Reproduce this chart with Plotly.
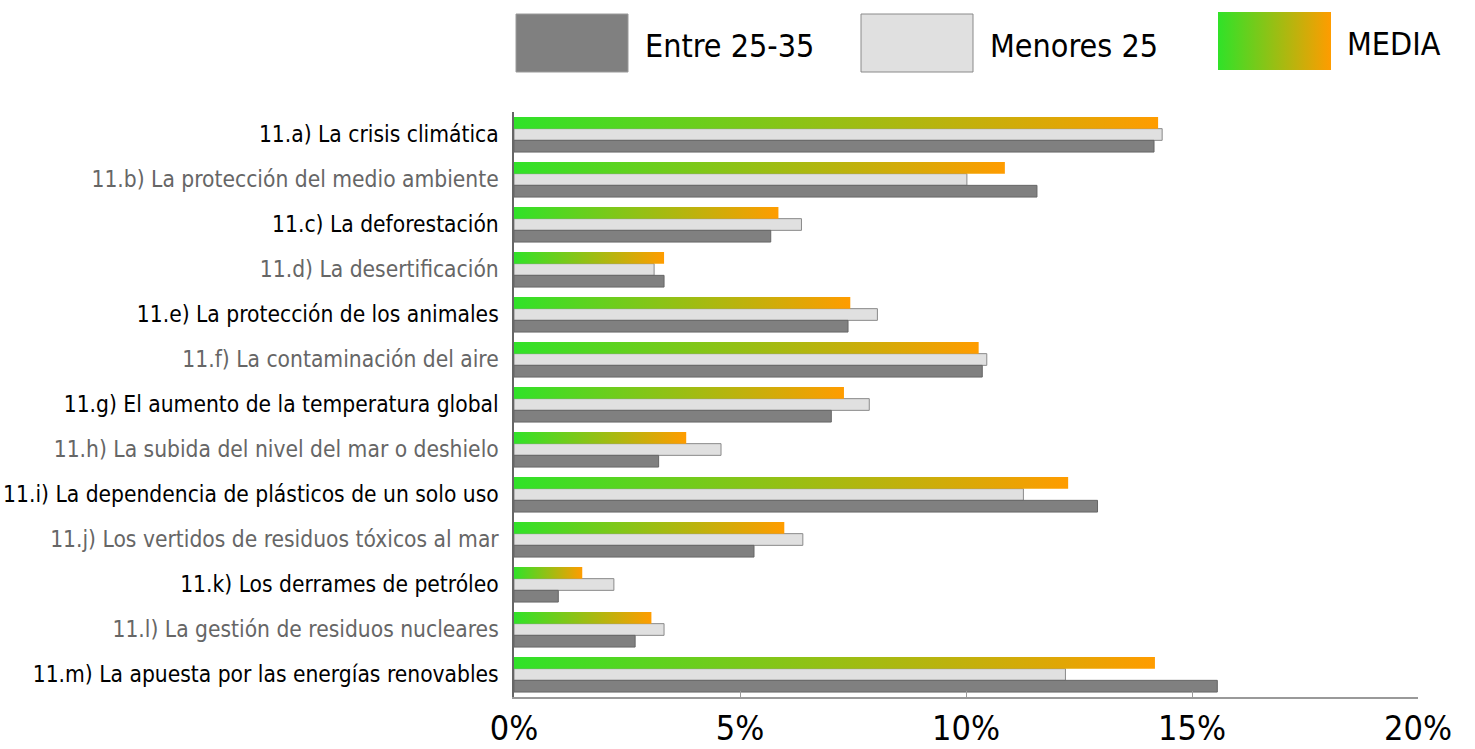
import plotly.graph_objects as go

# ---------------- data ----------------
categories = [
    "11.a) La crisis climática",
    "11.b) La protección del medio ambiente",
    "11.c) La deforestación",
    "11.d) La desertificación",
    "11.e) La protección de los animales",
    "11.f) La contaminación del aire",
    "11.g) El aumento de la temperatura global",
    "11.h) La subida del nivel del mar o deshielo",
    "11.i) La dependencia de plásticos de un solo uso",
    "11.j) Los vertidos de residuos tóxicos al mar",
    "11.k) Los derrames de petróleo",
    "11.l) La gestión de residuos nucleares",
    "11.m) La apuesta por las energías renovables",
]
media = [14.25, 10.86, 5.85, 3.32, 7.44, 10.28, 7.30, 3.81, 12.26, 5.98, 1.51, 3.04, 14.18]
menores_25 = [14.34, 10.02, 6.36, 3.10, 8.04, 10.46, 7.86, 4.58, 11.27, 6.39, 2.21, 3.32, 12.20]
entre_25_35 = [14.16, 11.57, 5.68, 3.32, 7.39, 10.36, 7.02, 3.20, 12.91, 5.31, 0.98, 2.68, 15.56]
x_tickvals = [0, 5, 10, 15, 20]
x_ticktext = ["0%", "5%", "10%", "15%", "20%"]
series_names = ["Entre 25-35", "Menores 25", "MEDIA"]

# ---------------- styles ----------------
FONT = "DejaVu Sans Condensed, Liberation Sans Narrow, sans-serif"
DARK_FILL, DARK_LINE = "#808080", "#666666"
LIGHT_FILL, LIGHT_LINE = "#e0e0e0", "#8a8a8a"
GREEN, ORANGE = "#30e228", "#ff9c00"
grad = dict(type="horizontal", colorscale=[[0, GREEN], [1, ORANGE]])
W = 0.26  # bar thickness in category units
label_colors = ["#000000" if i % 2 == 0 else "#666666" for i in range(len(categories))]

idx = list(range(len(categories)))
fig = go.Figure()

# MEDIA bars (gradient fill, drawn as filled rectangles on the data axes)
for i, v in zip(idx, media):
    y0, y1 = i - 1.5 * W, i - 0.5 * W
    fig.add_trace(go.Scatter(
        x=[0, v, v, 0, 0], y=[y0, y0, y1, y1, y0],
        mode="lines", line=dict(width=0), fill="toself",
        fillgradient=dict(grad, start=0, stop=v),
        hoverinfo="skip", showlegend=False,
    ))

fig.add_trace(go.Bar(
    y=idx, x=menores_25, orientation="h", width=W, offset=-0.5 * W,
    marker=dict(color=LIGHT_FILL, line=dict(color=LIGHT_LINE, width=1)),
    name=series_names[1], showlegend=False,
))
fig.add_trace(go.Bar(
    y=idx, x=entre_25_35, orientation="h", width=W, offset=0.5 * W,
    marker=dict(color=DARK_FILL, line=dict(color=DARK_LINE, width=1)),
    name=series_names[0], showlegend=False,
))

# ---------------- custom legend on an overlay pixel axis ----------------
H, WPX = 749, 1475
B = 52
plot_h = H - B
top_main = 112
fig.add_trace(go.Scatter(
    x=[1218, 1331, 1331, 1218, 1218], y=[12, 12, 70, 70, 12],
    xaxis="x2", yaxis="y2", mode="lines", line=dict(width=0), fill="toself",
    fillgradient=dict(grad, start=1218, stop=1331),
    hoverinfo="skip", showlegend=False,
))
shapes = [
    dict(type="rect", xref="x2", yref="y2", x0=516, x1=628, y0=14, y1=72,
         fillcolor=DARK_FILL, line=dict(color="#9a9a9a", width=1)),
    dict(type="rect", xref="x2", yref="y2", x0=861, x1=973, y0=14, y1=72,
         fillcolor=LIGHT_FILL, line=dict(color="#8a8a8a", width=1)),
]
annotations = []
for xpos, ypos, txt in [(643, 46, series_names[0]), (988, 46, series_names[1]), (1345, 44, series_names[2])]:
    annotations.append(dict(x=xpos, y=ypos, xref="x2", yref="y2", text=txt, showarrow=False,
                            xanchor="left", yanchor="middle",
                            font=dict(family=FONT, size=32, color="#000000")))

fig.update_layout(
    width=WPX, height=H,
    template="none",
    paper_bgcolor="white", plot_bgcolor="rgba(0,0,0,0)",
    margin=dict(l=0, r=0, t=0, b=B),
    barmode="overlay",
    showlegend=False,
    shapes=shapes,
    annotations=annotations,
    font=dict(family=FONT, color="#000000"),
    xaxis=dict(
        domain=[514 / WPX, 1418 / WPX], range=[0, 20], automargin=False,
        tickvals=x_tickvals, ticktext=x_ticktext, ticks="inside", ticklen=6,
        tickcolor="#999999", tickwidth=1,
        showline=True, linecolor="#999999", linewidth=1.5,
        showgrid=False, zeroline=False,
        tickfont=dict(family=FONT, size=34, color="#000000"),
        ticklabelstandoff=0,
        anchor="y",
    ),
    yaxis=dict(
        domain=[0, (plot_h - top_main) / plot_h], range=[len(categories) - 0.5, -0.5],
        automargin=False,
        tickvals=idx,
        ticktext=[f'<span style="color:{c}">{t}</span>' for t, c in zip(categories, label_colors)],
        ticks="", ticklabelstandoff=9,
        showline=True, linecolor="#666666", linewidth=1.5,
        showgrid=False, zeroline=False,
        tickfont=dict(family=FONT, size=22.6, color="#000000"),
        anchor="x",
    ),
    xaxis2=dict(domain=[0, 1], range=[0, WPX], visible=False, anchor="y2", fixedrange=True),
    yaxis2=dict(domain=[(plot_h - 100) / plot_h, 1], range=[100, 0], visible=False,
                anchor="x2", fixedrange=True),
)

fig.write_html(
    "out.html",
    config={"displayModeBar": False},
    post_script="document.body.style.margin='0';document.body.style.padding='0';window.dispatchEvent(new Event('resize'));",
)
